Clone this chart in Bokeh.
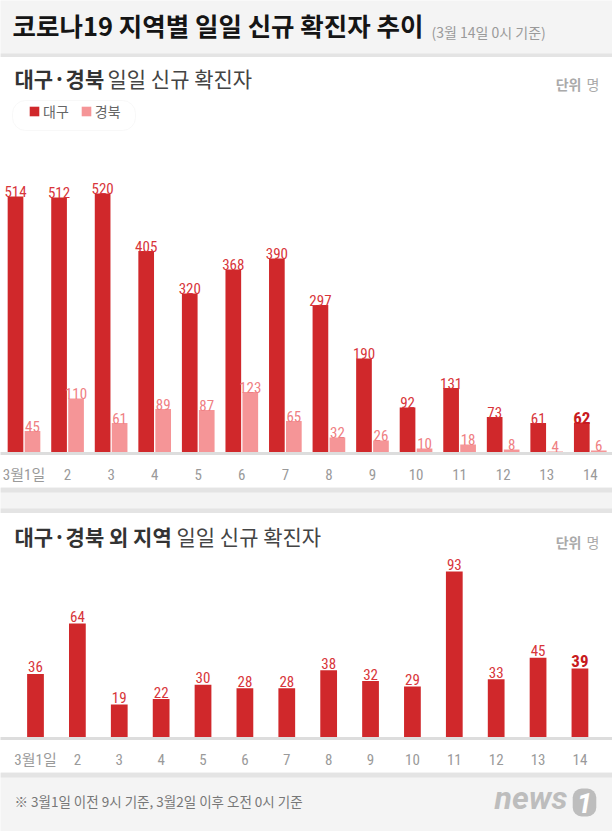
import numpy as np
from bokeh.plotting import figure
from bokeh.layouts import column
from bokeh.models import (ColumnDataSource, Label, BoxAnnotation, Legend, LegendItem,
                          FixedTicker, Range1d)
from bokeh.transform import dodge
from bokeh.core.properties import value
from bokeh.embed import file_html
from bokeh.resources import INLINE

# ---------------- data ----------------
days = ["3월1일", "2", "3", "4", "5", "6", "7", "8", "9", "10", "11", "12", "13", "14"]
daegu = [514, 512, 520, 405, 320, 368, 390, 297, 190, 92, 131, 73, 61, 62]
gyeongbuk = [45, 110, 61, 89, 87, 123, 65, 32, 26, 10, 18, 8, 4, 6]
others = [36, 64, 19, 22, 30, 28, 28, 38, 32, 29, 93, 33, 45, 39]
series_names = ["대구", "경북"]

title_main = "코로나19 지역별 일일 신규 확진자 추이"
title_note = "(3월 14일 0시 기준)"
top_title_bold = "대구·경북"
top_title_rest = "일일 신규 확진자"
bot_title_bold = "대구·경북 외 지역"
bot_title_rest = "일일 신규 확진자"
unit_bold = "단위"
unit_rest = "명"
footnote = "※ 3월1일 이전 9시 기준, 3월2일 이후 오전 0시 기준"
logo_word = "news"
logo_num = "1"

# ---------------- styles ----------------
W = 612
KR = "'Noto Sans CJK KR', 'Noto Sans', sans-serif"
NUM = ("'Roboto Condensed', 'Liberation Sans Narrow', 'DejaVu Sans Condensed', "
       "'Noto Sans CJK KR', sans-serif")
RED = "#d0282b"
PINK = "#f59597"
RED_T = "#d8353a"
PINK_T = "#ef8083"
BAND = "#f4f4f4"
RULE = "#e4e4e4"
BASE = "#dddddd"
TICK = "#9a9a9a"


def plain(h, bg):
    p = figure(width=W, height=h, x_range=Range1d(0, W), y_range=Range1d(0, h),
               output_backend="svg", toolbar_location=None,
               x_axis_type=None, y_axis_type=None,
               background_fill_color=bg, border_fill_color=bg, min_border=0)
    p.grid.visible = False
    p.outline_line_color = None
    return p


def style_xaxis(p, labels):
    ax = p.xaxis[0]
    ax.ticker = FixedTicker(ticks=list(range(len(labels))))
    ax.major_label_overrides = {i: lab for i, lab in enumerate(labels)}
    ax.axis_line_color = BASE
    ax.axis_line_width = 3
    ax.major_tick_line_color = None
    ax.minor_tick_line_color = None
    ax.major_label_text_color = TICK
    ax.major_label_text_font = NUM
    ax.major_label_text_font_size = "15px"
    ax.major_label_standoff = 6


def panel_titles(p, bold, rest, rest_x, y):
    p.add_layout(Label(x=14, y=y, x_units="screen", y_units="screen", text=bold,
                       text_font=KR, text_font_size="21px", text_font_style="bold",
                       text_color="#333333"))
    p.add_layout(Label(x=rest_x, y=y, x_units="screen", y_units="screen", text=rest,
                       text_font=KR, text_font_size="21px", text_color="#444444"))
    p.add_layout(Label(x=581, y=y - 1, x_units="screen", y_units="screen", text=unit_bold,
                       text_font=KR, text_font_size="14px", text_font_style="bold",
                       text_color="#aaaaaa", text_align="right"))
    p.add_layout(Label(x=599, y=y - 1, x_units="screen", y_units="screen", text=unit_rest,
                       text_font=KR, text_font_size="14px", text_color="#aaaaaa",
                       text_align="right"))


# ---------------- header ----------------
hdr = plain(57, BAND)
hdr.add_layout(BoxAnnotation(bottom=0, top=4, fill_color=RULE, fill_alpha=1, line_color=None))
hdr.add_layout(Label(x=12, y=15, text=title_main, text_font=KR, text_font_size="25.5px",
                     text_font_style="bold", text_color="#151515"))
hdr.add_layout(Label(x=431, y=16, text=title_note, text_font=KR, text_font_size="14px",
                     text_color="#9a9a9a"))

# ---------------- top chart ----------------
n = len(days)
idx = np.arange(n)
c0, step = 23.5, 43.56
top_frame_h = 396
top = figure(width=W, height=430,
             x_range=Range1d(-c0 / step, (W - c0) / step),
             y_range=Range1d(0, top_frame_h / 0.5),
             output_backend="svg", toolbar_location=None, y_axis_type=None,
             background_fill_color="white", border_fill_color="white",
             min_border_left=0, min_border_right=0, min_border_top=0, min_border_bottom=34)
top.grid.visible = False
top.outline_line_color = None
style_xaxis(top, days)

last = [i == n - 1 for i in idx]
src_top = ColumnDataSource(dict(
    x=idx, daegu=daegu, gyeongbuk=gyeongbuk,
    dg_txt=[str(v) for v in daegu], gb_txt=[str(v) for v in gyeongbuk],
    dg_col=["#c81a20" if l else RED_T for l in last],
    dg_style=["bold" if l else "normal" for l in last],
    dg_size=["17px" if l else "15px" for l in last],
))
off = 0.195
r_dg = top.vbar(x=dodge("x", -off), top="daegu", width=0.36, source=src_top,
                fill_color=RED, line_color=None)
r_gb = top.vbar(x=dodge("x", off), top="gyeongbuk", width=0.36, source=src_top,
                fill_color=PINK, line_color=None)
top.text(x=dodge("x", -off), y="daegu", text="dg_txt", source=src_top,
         text_color="dg_col", text_font_style="dg_style", text_font_size="dg_size",
         text_font=value(NUM), text_align="center", text_baseline="alphabetic", y_offset=-5)
top.text(x=dodge("x", off), y="gyeongbuk", text="gb_txt", source=src_top,
         text_color=PINK_T, text_font_size=value("15px"),
         text_font=value(NUM), text_align="center", text_baseline="alphabetic", y_offset=-5)

panel_titles(top, top_title_bold, top_title_rest, 107, 361)

# legend box
top.add_layout(BoxAnnotation(left=(12) / step - c0 / step, right=135 / step - c0 / step,
                             bottom=(top_frame_h - 73) * 2, top=(top_frame_h - 43) * 2,
                             fill_color="white", fill_alpha=1, line_color="#e9e9e9",
                             line_width=1, border_radius=13, level="underlay"))
legend = Legend(items=[LegendItem(label=series_names[0], renderers=[r_dg]),
                       LegendItem(label=series_names[1], renderers=[r_gb])],
                location=(28, 332), orientation="horizontal",
                padding=0, margin=0, spacing=11, glyph_width=12, glyph_height=12,
                label_height=12, label_standoff=3,
                label_text_font=KR, label_text_font_size="14px", label_text_color="#666666",
                border_line_color=None, background_fill_alpha=0)
top.add_layout(legend)

# ---------------- separator ----------------
sep = plain(26, BAND)
sep.add_layout(BoxAnnotation(bottom=21, top=26, fill_color=RULE, fill_alpha=1, line_color=None))
sep.add_layout(BoxAnnotation(bottom=0, top=5, fill_color=RULE, fill_alpha=1, line_color=None))

# ---------------- bottom chart ----------------
b0, bstep = 35.0, 41.88
bot_frame_h = 225
bot = figure(width=W, height=259,
             x_range=Range1d(-b0 / bstep, (W - b0) / bstep),
             y_range=Range1d(0, bot_frame_h / 1.795),
             output_backend="svg", toolbar_location=None, y_axis_type=None,
             background_fill_color="white", border_fill_color="white",
             min_border_left=0, min_border_right=0, min_border_top=0, min_border_bottom=34)
bot.grid.visible = False
bot.outline_line_color = None
style_xaxis(bot, days)

src_bot = ColumnDataSource(dict(
    x=idx, others=others, txt=[str(v) for v in others],
    col=["#c81a20" if l else RED_T for l in last],
    sty=["bold" if l else "normal" for l in last],
    size=["17px" if l else "15px" for l in last],
))
bot.vbar(x="x", top="others", width=0.4, source=src_bot, fill_color=RED, line_color=None)
bot.text(x="x", y="others", text="txt", source=src_bot, text_color="col",
         text_font_style="sty", text_font_size="size", text_font=value(NUM),
         text_align="center", text_baseline="alphabetic", y_offset=-7)
panel_titles(bot, bot_title_bold, bot_title_rest, 176, 188)

# ---------------- footer ----------------
ftr = plain(59, BAND)
ftr.add_layout(BoxAnnotation(bottom=54, top=59, fill_color=RULE, fill_alpha=1, line_color=None))
ftr.add_layout(Label(x=14, y=21, text=footnote, text_font=KR, text_font_size="13.5px",
                     text_color="#777777"))
ftr.add_layout(Label(x=494, y=15, text=logo_word, text_font="Roboto", text_font_size="32px",
                     text_font_style="bold italic", text_color="#bdbdbd"))
ftr.add_layout(Label(x=584, y=15, text=logo_num, text_font="Roboto", text_font_size="28px",
                     text_font_style="bold italic", text_color="white", text_align="center",
                     background_fill_color="#bdbdbd", background_fill_alpha=1,
                     padding=4, border_radius=9))

layout = column(hdr, top, sep, bot, ftr, spacing=0)
open("out.html", "w").write(file_html(layout, INLINE))
